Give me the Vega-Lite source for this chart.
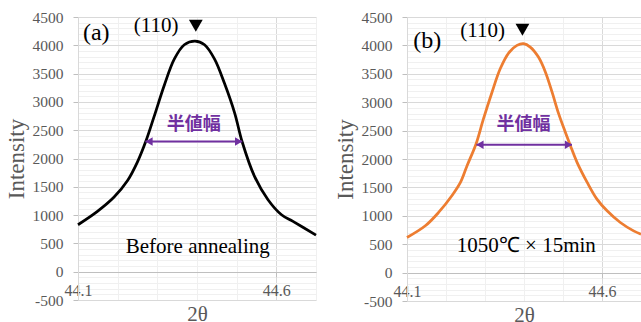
{
  "$schema": "https://vega.github.io/schema/vega-lite/v6.json",
  "padding": {"left": 5, "top": 10, "right": 0, "bottom": 0},
  "spacing": 12,
  "config": {"font": "Liberation Serif", "view": {"stroke": null}},
  "datasets": {
    "curveA": [
      {"x": 44.100, "y": 830}, {"x": 44.149, "y": 1066}, {"x": 44.191, "y": 1319}, {"x": 44.225, "y": 1610},
      {"x": 44.250, "y": 1940}, {"x": 44.271, "y": 2303}, {"x": 44.292, "y": 2744}, {"x": 44.318, "y": 3304},
      {"x": 44.343, "y": 3760}, {"x": 44.368, "y": 4010}, {"x": 44.395, "y": 4075}, {"x": 44.419, "y": 4010},
      {"x": 44.444, "y": 3760}, {"x": 44.469, "y": 3333}, {"x": 44.495, "y": 2803}, {"x": 44.514, "y": 2291},
      {"x": 44.545, "y": 1684}, {"x": 44.579, "y": 1272}, {"x": 44.613, "y": 1007}, {"x": 44.642, "y": 889},
      {"x": 44.700, "y": 645}
    ],
    "curveB": [
      {"x": 44.100, "y": 618}, {"x": 44.147, "y": 824}, {"x": 44.181, "y": 1059}, {"x": 44.215, "y": 1353},
      {"x": 44.237, "y": 1588}, {"x": 44.254, "y": 1882}, {"x": 44.277, "y": 2265}, {"x": 44.296, "y": 2706},
      {"x": 44.318, "y": 3176}, {"x": 44.339, "y": 3588}, {"x": 44.361, "y": 3870}, {"x": 44.382, "y": 4000},
      {"x": 44.399, "y": 4030}, {"x": 44.416, "y": 3970}, {"x": 44.437, "y": 3794}, {"x": 44.455, "y": 3529},
      {"x": 44.472, "y": 3176}, {"x": 44.489, "y": 2794}, {"x": 44.506, "y": 2471}, {"x": 44.519, "y": 2235},
      {"x": 44.536, "y": 1941}, {"x": 44.562, "y": 1588}, {"x": 44.587, "y": 1294}, {"x": 44.613, "y": 1088},
      {"x": 44.647, "y": 882}, {"x": 44.681, "y": 735}, {"x": 44.700, "y": 676}
    ]
  },
  "hconcat": [
    {
      "width": 238,
      "height": 283,
      "encoding": {
        "x": {
          "field": "x", "type": "quantitative",
          "scale": {"domain": [44.1, 44.7], "nice": false, "zero": false},
          "axis": {
            "title": "2θ", "titleFont": "Liberation Serif", "titleFontSize": 21, "titleFontWeight": "normal", "titleColor": "#595959", "titlePadding": 5,
            "values": [44.1, 44.2, 44.3, 44.4, 44.5, 44.6, 44.7], "format": ".1f",
            "labelExpr": "abs(datum.value-44.1)<0.001 || abs(datum.value-44.6)<0.001 ? datum.label : ''",
            "labelFont": "Liberation Serif", "labelFontSize": 16, "labelColor": "#595959",
            "labelFlush": false, "labelOverlap": false, "labelBound": false, "labelPadding": 5,
            "tickSize": 5, "tickColor": "#bfbfbf",
            "tickOpacity": {"condition": {"test": "abs(datum.value-44.1)<0.001 || abs(datum.value-44.6)<0.001", "value": 1}, "value": 0},
            "offset": -28,
            "grid": true,
            "gridColor": {"condition": {"test": "abs(datum.value-44.6)<0.001", "value": "#d9d9d9"}, "value": "#f0f0f0"},
            "domainColor": "#bfbfbf"
          }
        },
        "y": {
          "field": "y", "type": "quantitative",
          "scale": {"domain": [-500, 4500], "nice": false},
          "axis": {
            "title": "Intensity", "titleFont": "Liberation Serif", "titleFontSize": 23, "titleFontWeight": "normal", "titleColor": "#595959", "titlePadding": 4,
            "values": [-500,-400,-300,-200,-100,0,100,200,300,400,500,600,700,800,900,1000,1100,1200,1300,1400,1500,1600,1700,1800,1900,2000,2100,2200,2300,2400,2500,2600,2700,2800,2900,3000,3100,3200,3300,3400,3500,3600,3700,3800,3900,4000,4100,4200,4300,4400,4500],
            "labelExpr": "datum.value % 500 === 0 ? toString(datum.value) : ''",
            "labelFont": "Liberation Serif", "labelFontSize": 15.5, "labelColor": "#595959",
            "labelPadding": 10, "labelOverlap": false, "labelBound": false, "labelFlush": false,
            "tickSize": 5, "tickColor": "#bfbfbf",
            "tickOpacity": {"condition": {"test": "datum.value % 500 === 0", "value": 1}, "value": 0},
            "grid": true,
            "gridColor": {"condition": {"test": "datum.value % 500 === 0", "value": "#d9d9d9"}, "value": "#f0f0f0"},
            "domainColor": "#d9d9d9"
          }
        }
      },
      "layer": [
        {"data": {"name": "curveA"}, "mark": {"type": "line", "color": "#000000", "strokeWidth": 2.75, "interpolate": "catmull-rom"}},
        {"data": {"values": [{"x": 44.27, "x2": 44.514, "y": 2300}]}, "mark": {"type": "rule", "color": "#7030A0", "strokeWidth": 2}, "encoding": {"x2": {"field": "x2"}}},
        {"data": {"values": [{"x": 44.279, "y": 2300}]}, "mark": {"type": "point", "shape": "triangle-left", "filled": true, "color": "#7030A0", "size": 70, "opacity": 1}},
        {"data": {"values": [{"x": 44.505, "y": 2300}]}, "mark": {"type": "point", "shape": "triangle-right", "filled": true, "color": "#7030A0", "size": 70, "opacity": 1}},
        {"data": {"values": [{"x": 44.397, "y": 4346}]}, "mark": {"type": "point", "shape": "triangle-down", "filled": true, "color": "#000000", "size": 190, "opacity": 1}},
        {"data": {"values": [{"x": 44.146, "y": 4222, "t": "(a)"}]}, "mark": {"type": "text", "font": "Liberation Serif", "fontSize": 24, "color": "#000000", "align": "center", "baseline": "middle"}, "encoding": {"text": {"field": "t"}}},
        {"data": {"values": [{"x": 44.297, "y": 4346, "t": "(110)"}]}, "mark": {"type": "text", "font": "Liberation Serif", "fontSize": 21, "color": "#000000", "align": "center", "baseline": "middle"}, "encoding": {"text": {"field": "t"}}},
        {"data": {"values": [{"x": 44.392, "y": 2597, "t": "半値幅"}]}, "mark": {"type": "text", "font": "Noto Sans CJK JP", "fontSize": 18, "fontWeight": "bold", "color": "#7030A0", "align": "center", "baseline": "middle"}, "encoding": {"text": {"field": "t"}}},
        {"data": {"values": [{"x": 44.402, "y": 442, "t": "Before annealing"}]}, "mark": {"type": "text", "font": "Liberation Serif", "fontSize": 21, "color": "#000000", "align": "center", "baseline": "middle"}, "encoding": {"text": {"field": "t"}}}
      ]
    },
    {
      "width": 234,
      "height": 284,
      "encoding": {
        "x": {
          "field": "x", "type": "quantitative",
          "scale": {"domain": [44.1, 44.7], "nice": false, "zero": false},
          "axis": {
            "title": "2θ", "titleFont": "Liberation Serif", "titleFontSize": 21, "titleFontWeight": "normal", "titleColor": "#595959", "titlePadding": 5,
            "values": [44.1, 44.2, 44.3, 44.4, 44.5, 44.6, 44.7], "format": ".1f",
            "labelExpr": "abs(datum.value-44.1)<0.001 || abs(datum.value-44.6)<0.001 ? datum.label : ''",
            "labelFont": "Liberation Serif", "labelFontSize": 16, "labelColor": "#595959",
            "labelFlush": false, "labelOverlap": false, "labelBound": false, "labelPadding": 5,
            "tickSize": 5, "tickColor": "#bfbfbf",
            "tickOpacity": {"condition": {"test": "abs(datum.value-44.1)<0.001 || abs(datum.value-44.6)<0.001", "value": 1}, "value": 0},
            "offset": -28,
            "grid": true,
            "gridColor": {"condition": {"test": "abs(datum.value-44.6)<0.001", "value": "#d9d9d9"}, "value": "#f0f0f0"},
            "domainColor": "#bfbfbf"
          }
        },
        "y": {
          "field": "y", "type": "quantitative",
          "scale": {"domain": [-500, 4500], "nice": false},
          "axis": {
            "title": "Intensity", "titleFont": "Liberation Serif", "titleFontSize": 23, "titleFontWeight": "normal", "titleColor": "#595959", "titlePadding": 4,
            "values": [-500,-400,-300,-200,-100,0,100,200,300,400,500,600,700,800,900,1000,1100,1200,1300,1400,1500,1600,1700,1800,1900,2000,2100,2200,2300,2400,2500,2600,2700,2800,2900,3000,3100,3200,3300,3400,3500,3600,3700,3800,3900,4000,4100,4200,4300,4400,4500],
            "labelExpr": "datum.value % 500 === 0 ? toString(datum.value) : ''",
            "labelFont": "Liberation Serif", "labelFontSize": 15.5, "labelColor": "#595959",
            "labelPadding": 10, "labelOverlap": false, "labelBound": false, "labelFlush": false,
            "tickSize": 5, "tickColor": "#bfbfbf",
            "tickOpacity": {"condition": {"test": "datum.value % 500 === 0", "value": 1}, "value": 0},
            "grid": true,
            "gridColor": {"condition": {"test": "datum.value % 500 === 0", "value": "#d9d9d9"}, "value": "#f0f0f0"},
            "domainColor": "#d9d9d9"
          }
        }
      },
      "layer": [
        {"data": {"name": "curveB"}, "mark": {"type": "line", "color": "#ED7D31", "strokeWidth": 2.75, "interpolate": "catmull-rom"}},
        {"data": {"values": [{"x": 44.278, "x2": 44.523, "y": 2250}]}, "mark": {"type": "rule", "color": "#7030A0", "strokeWidth": 2}, "encoding": {"x2": {"field": "x2"}}},
        {"data": {"values": [{"x": 44.287, "y": 2250}]}, "mark": {"type": "point", "shape": "triangle-left", "filled": true, "color": "#7030A0", "size": 70, "opacity": 1}},
        {"data": {"values": [{"x": 44.514, "y": 2250}]}, "mark": {"type": "point", "shape": "triangle-right", "filled": true, "color": "#7030A0", "size": 70, "opacity": 1}},
        {"data": {"values": [{"x": 44.396, "y": 4276}]}, "mark": {"type": "point", "shape": "triangle-down", "filled": true, "color": "#000000", "size": 190, "opacity": 1}},
        {"data": {"values": [{"x": 44.152, "y": 4081, "t": "(b)"}]}, "mark": {"type": "text", "font": "Liberation Serif", "fontSize": 24, "color": "#000000", "align": "center", "baseline": "middle"}, "encoding": {"text": {"field": "t"}}},
        {"data": {"values": [{"x": 44.294, "y": 4250, "t": "(110)"}]}, "mark": {"type": "text", "font": "Liberation Serif", "fontSize": 21, "color": "#000000", "align": "center", "baseline": "middle"}, "encoding": {"text": {"field": "t"}}},
        {"data": {"values": [{"x": 44.399, "y": 2594, "t": "半値幅"}]}, "mark": {"type": "text", "font": "Noto Sans CJK JP", "fontSize": 18, "fontWeight": "bold", "color": "#7030A0", "align": "center", "baseline": "middle"}, "encoding": {"text": {"field": "t"}}},
        {"data": {"values": [{"x": 44.406, "y": 462, "t": "1050℃ × 15min"}]}, "mark": {"type": "text", "font": "Liberation Serif", "fontSize": 21, "color": "#000000", "align": "center", "baseline": "middle"}, "encoding": {"text": {"field": "t"}}}
      ]
    }
  ]
}
